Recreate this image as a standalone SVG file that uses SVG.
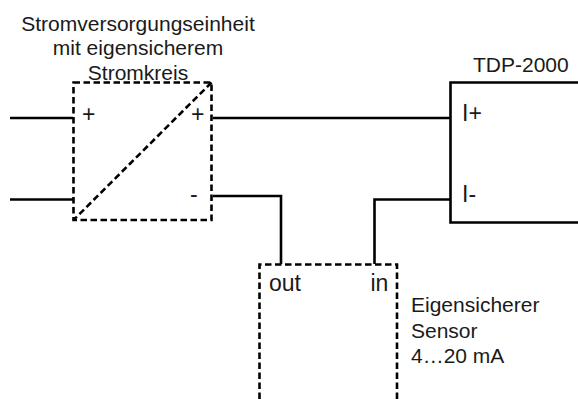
<svg xmlns="http://www.w3.org/2000/svg" width="578" height="399" viewBox="0 0 578 399">
<style>
text{font-family:"Liberation Sans",Arial,sans-serif;fill:#1a1a1a}
.a{font-size:21px}
.b{font-size:23px}
.s{fill:none;stroke:#000;stroke-width:2.6}
.d{fill:none;stroke:#000;stroke-width:2.6;stroke-dasharray:6.5 3.5}
</style>
<rect width="578" height="399" fill="#fff"/>
<g id="connectors">
<path class="s" d="M10 118H73"/>
<path class="s" d="M10 199.500H73"/>
<path class="s" d="M213 118H450"/>
<path class="s" d="M213 196H281V264"/>
<path class="s" d="M450 199.500H374.500V264"/>
</g>
<g id="supply">
<text class="a" text-anchor="middle" x="138" y="31">Stromversorgungseinheit</text>
<text class="a" text-anchor="middle" x="138" y="55">mit eigensicherem</text>
<text class="a" text-anchor="middle" x="138" y="80">Stromkreis</text>
<rect class="d" x="73.500" y="82.500" width="138" height="137.500"/>
<path class="d" d="M211.500 82.500L73.500 220"/>
<text class="b" x="82" y="122">+</text>
<text class="b" x="191" y="122">+</text>
<text class="b" x="190" y="202">-</text>
</g>
<g id="tdp">
<text class="a" x="473" y="72">TDP-2000</text>
<path class="s" d="M578 82.500H450.500V222.500H578"/>
<text class="b" x="462" y="120.500">I+</text>
<text class="b" x="462" y="201.500">I-</text>
</g>
<g id="sensor">
<path class="d" d="M259.500 399V264.500H397V399"/>
<text class="b" x="269" y="291">out</text>
<text class="b" x="370.500" y="291">in</text>
<text class="a" x="411" y="312">Eigensicherer</text>
<text class="a" x="411" y="338">Sensor</text>
<text class="a" x="411" y="363">4…20 mA</text>
</g>
</svg>
